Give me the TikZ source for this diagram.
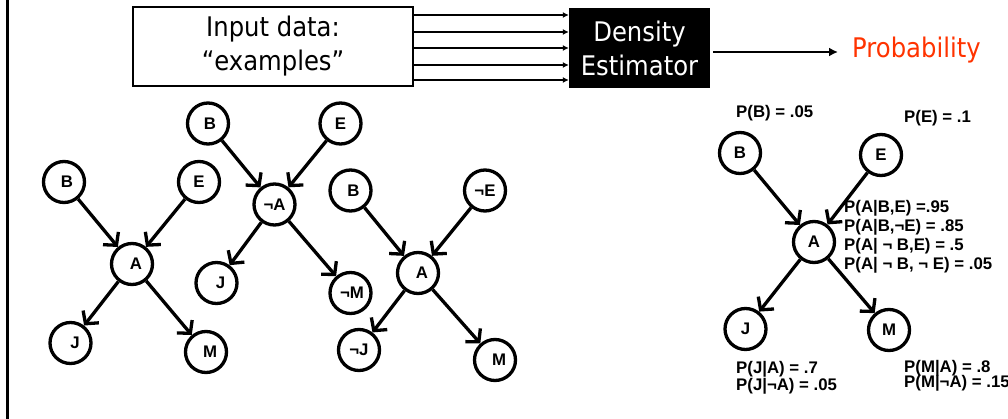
\documentclass[tikz,border=0pt]{standalone}
\usepackage{fontspec}
\setmainfont{Liberation Sans}
\newfontfamily\tah[FakeStretch=0.9]{DejaVu Sans}
\usetikzlibrary{arrows.meta}
\definecolor{probred}{RGB}{255,51,0}
\begin{document}
\begin{tikzpicture}[x=1pt,y=-1pt,
  bn/.style={circle,draw,line width=3.3pt,minimum size=41pt,inner sep=0pt,font=\bfseries\fontsize{16.8}{18}\selectfont},
  nudge/.style={execute at begin node={\hspace*{#1}}},
  arr/.style={line width=3.3pt,-{Straight Barb[length=9pt,width=20pt]}},
  cpt/.style={anchor=base west,inner sep=0pt,font=\bfseries\fontsize{16.8}{18}\selectfont},
  big/.style={font=\tah\fontsize{27}{34}\selectfont,align=center,inner sep=0pt},
  tarr/.style={line width=2pt,-{Latex[length=6pt,width=6pt]}},
  parr/.style={line width=2.5pt,-{Latex[length=9pt,width=9pt]}}]
\useasboundingbox (0,0) rectangle (1008,419);
% left border line
\draw[line width=2.5pt] (7.5,0) -- (7.5,419);
% top row
\node[draw,line width=2.3pt,minimum width=280pt,minimum height=79pt,inner sep=0pt] (inp) at (273,46.5) {};
\node[big] (inptxt) at (273,46.5) {Input data:\\“examples”};
\node[fill=black,minimum width=141pt,minimum height=80pt,inner sep=0pt] (den) at (639.5,48) {};
\node[big,text=white] (dentxt) at (639.5,48) {Density\\Estimator};
\node[font=\tah\fontsize{27}{34}\selectfont,text=probred,anchor=base west,inner sep=0pt] (prob) at (852,58) {Probability};
\foreach \yy in {15,32,48,65,80}
  \draw[tarr] (inp.east |- 0,\yy) -- (den.west |- 0,\yy);
\draw[parr] ([xshift=3pt]den.east |- 0,52) -- ([xshift=-14pt]prob.west |- 0,52);
% graph 1
\node[bn,nudge=6pt] (b1) at (64,182) {B};
\node[bn] (e1) at (199,182) {E};
\node[bn,nudge=8pt] (a1) at (132,264) {A};
\node[bn,nudge=9pt] (j1) at (70.5,343) {J};
\node[bn,nudge=8pt] (m1) at (206,352) {M};
\draw[arr] (b1) -- (a1);
\draw[arr] (e1) -- (a1);
\draw[arr] (a1) -- (j1);
\draw[arr] (a1) -- (m1);
% graph 2
\node[bn,nudge=4pt] (b2) at (208,123.5) {B};
\node[bn] (e2) at (340.5,123.5) {E};
\node[bn] (a2) at (274.5,204.5) {¬A};
\node[bn,nudge=8pt] (j2) at (216.5,283) {J};
\node[bn,nudge=3pt] (m2) at (350.5,293) {¬M};
\draw[arr] (b2) -- (a2);
\draw[arr] (e2) -- (a2);
\draw[arr] (a2) -- (j2);
\draw[arr] (a2) -- (m2);
% graph 3
\node[bn,nudge=6pt] (b3) at (350.5,190.5) {B};
\node[bn] (e3) at (485,190.5) {¬E};
\node[bn,nudge=8pt] (a3) at (418,273) {A};
\node[bn] (j3) at (359,350) {¬J};
\node[bn,nudge=8pt] (m3) at (495,360) {M};
\draw[arr] (b3) -- (a3);
\draw[arr] (e3) -- (a3);
\draw[arr] (a3) -- (j3);
\draw[arr] (a3) -- (m3);
% right graph with CPTs
\node[bn] (b4) at (740,153) {B};
\node[bn] (e4) at (881,155) {E};
\node[bn] (a4) at (814,242) {A};
\node[bn] (j4) at (745.5,329) {J};
\node[bn] (m4) at (889,330) {M};
\draw[arr] (b4) -- (a4);
\draw[arr] (e4) -- (a4);
\draw[arr] (a4) -- (j4);
\draw[arr] (a4) -- (m4);
\node[cpt] (pb) at (736,118) {P(B) = .05};
\node[cpt] (pe) at (904,123) {P(E) = .1};
\node[cpt] (pa1) at (844,213) {P(A|B,E) =.95};
\node[cpt] (pa2) at (844,232) {P(A|B,¬E) = .85};
\node[cpt] (pa3) at (844,251) {P(A| ¬ B,E) = .5};
\node[cpt] (pa4) at (844,270) {P(A| ¬ B, ¬ E) = .05};
\node[cpt] (pj1) at (736,373) {P(J|A) = .7};
\node[cpt] (pj2) at (736,390) {P(J|¬A) = .05};
\node[cpt] (pm1) at (904,372) {P(M|A) = .8};
\node[cpt] (pm2) at (904,387) {P(M|¬A) = .15};
\end{tikzpicture}
\end{document}
